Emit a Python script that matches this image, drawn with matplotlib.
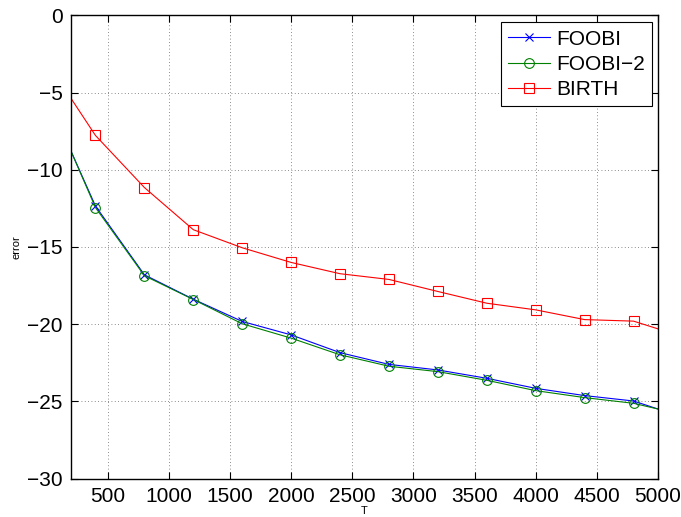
import numpy as np
import matplotlib
matplotlib.use('Agg')
from matplotlib import pyplot as plt

# datos
T = [200, 400, 800, 1200, 1600, 2000, 2400, 2800, 3200, 3600, 4000, 4400, 4800, 5000]
foobi = [-8.80, -12.35, -16.80, -18.38, -19.82, -20.69, -21.84, -22.60, -22.96, -23.50, -24.15, -24.62, -24.97, -25.49]
foobi2 = [-8.80, -12.45, -16.86, -18.40, -19.97, -20.90, -21.98, -22.72, -23.07, -23.63, -24.30, -24.75, -25.12, -25.49]
birth = [-5.38, -7.78, -11.15, -13.88, -15.05, -16.00, -16.73, -17.10, -17.88, -18.64, -19.07, -19.70, -19.80, -20.30]

xticks = [500, 1000, 1500, 2000, 2500, 3000, 3500, 4000, 4500, 5000]
yticks = [-30, -25, -20, -15, -10, -5, 0]

plt.rcParams['font.family'] = ['Liberation Sans', 'DejaVu Sans']

fig = plt.figure(figsize=(6.81, 5.17), dpi=100)
ax = fig.add_axes([0.1043, 0.0741, 0.8619, 0.8963])

marcas = slice(1, -1)
ax.plot(T, foobi, color='b', lw=0.8, marker='x', ms=5.5, mew=0.8, markevery=marcas, label='FOOBI')
ax.plot(T, foobi2, color=(0, 0.5, 0), lw=0.8, marker='o', ms=7, mfc='none', mew=0.8, markevery=marcas, label='FOOBI\u22122')
ax.plot(T, birth, color='r', lw=0.8, marker='s', ms=6.5, mfc='none', mew=0.8, markevery=marcas, label='BIRTH')

ax.set_xlim(200, 5000)
ax.set_ylim(-30, 0)
ax.set_xticks(xticks)
ax.set_yticks(yticks)
ax.set_yticklabels([str(v).replace('-', '\u2212') for v in yticks])
ax.tick_params(direction='in', top=True, right=True, labelsize=15, length=5, width=0.8, pad=6)
ax.grid(True, linestyle=(0, (1, 3)), color='k', lw=0.6, alpha=0.6)
for s in ax.spines.values():
	s.set_linewidth(1.0)

ax.set_xlabel('T', fontsize=8, labelpad=0)
ax.set_ylabel('error', fontsize=8, labelpad=4)

leg = ax.legend(loc='upper right', fontsize=15, fancybox=False, framealpha=1, edgecolor='k',
				borderpad=0.35, labelspacing=0.3, handlelength=2.0, handletextpad=0.3,
				borderaxespad=0, bbox_to_anchor=(0.9898, 0.985))
leg.get_frame().set_linewidth(0.8)

fig.savefig('out.png', dpi=100)
